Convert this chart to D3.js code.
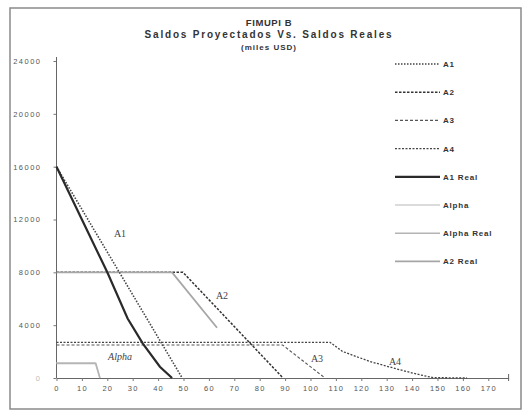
<!DOCTYPE html>
<html><head><meta charset="utf-8">
<script src="https://cdn.jsdelivr.net/npm/d3@7"></script>
<style>
body{margin:0;background:#fff;}
svg{display:block;}
</style></head>
<body>
<svg id="c" width="526" height="412"></svg>
<script>
// ---- data ----
const titleLines = ["FIMUPI B", "Saldos Proyectados Vs. Saldos Reales", "(miles USD)"];
const xTicks = [0,10,20,30,40,50,60,70,80,90,100,110,120,130,140,150,160,170];
const yTicks = [0,4000,8000,12000,16000,20000,24000];
const seriesNames = ["A1","A2","A3","A4","A1 Real","Alpha","Alpha Real","A2 Real"];
const a1 = [[0,16000],[49.5,0]];
const a2 = [[0,8000],[49.8,8000],[89.2,0]];
const a3 = [[0,2500],[89,2500],[105.7,0]];
const a4 = [[0,2700],[107.7,2700],[112.7,2000],[123.4,1250],[135.2,620],[143.1,240],[148.2,30],[161.6,0]];
const a1Real = [[0,16000],[10,12000],[20,8000],[28,4500],[34,2600],[40.7,850],[45.5,0]];
const alpha = [[0,1150],[15.2,1150],[17.1,0]];
const alphaReal = [[0,1100],[15.5,1100],[17.1,0]];
const a2Real = [[0,8000],[45.5,8000],[63.2,3800]];
const labels = [["A1",120,237],["A2",222,299],["A3",317,362],["A4",395,365],["Alpha",120,360]];

const svg = d3.select("#c");
const x = d3.scaleLinear().domain([0,178]).range([56.5,508.6]);
const y = d3.scaleLinear().domain([0,24000]).range([378,61]);
const SANS = "Liberation Sans, Arial, sans-serif";

// frame
svg.append("rect").attr("x",10).attr("y",8).attr("width",511).attr("height",401)
  .attr("fill","#fff").attr("stroke","#8a8a8a").attr("stroke-width",1.5);

// title
const tSize = [9.5,10,8];
const tSpace = [0.6,1.8,1];
svg.selectAll("text.title").data(titleLines).join("text")
  .attr("x",269).attr("y",(d,i)=>26+i*12)
  .attr("text-anchor","middle")
  .attr("font-family",SANS)
  .attr("font-weight","bold")
  .attr("font-size",(d,i)=>tSize[i])
  .attr("letter-spacing",(d,i)=>tSpace[i])
  .attr("fill","#333")
  .text(d=>d);

// axes
const gx = svg.append("g").attr("transform","translate(0,378)")
  .call(d3.axisBottom(x).tickValues(xTicks).tickSize(3).tickSizeOuter(0).tickFormat(d3.format("d")));
const gy = svg.append("g").attr("transform",`translate(${x(0)},0)`)
  .call(d3.axisLeft(y).tickValues(yTicks).tickSize(3).tickSizeOuter(0).tickFormat(d3.format("d")));
gy.select(".domain").remove();
svg.append("line").attr("x1",x(0)).attr("x2",x(0)).attr("y1",57).attr("y2",378).attr("stroke","#666").attr("stroke-width",1);
[gx,gy].forEach(g=>{
  g.selectAll("line").attr("stroke","#777");
  g.select(".domain").attr("stroke","#666");
  g.selectAll("text").attr("font-family",SANS)
    .attr("font-size",7.5).attr("fill","#555");
});
gx.selectAll("text").attr("dy","0.95em").attr("letter-spacing",1.2);
gy.selectAll("text").attr("dx","-9").attr("letter-spacing",1.5);
gy.selectAll(".tick").filter(d=>d===0).select("text").attr("fill","#bbb");
svg.append("line").attr("x1",x(178)).attr("x2",x(178)).attr("y1",374).attr("y2",381).attr("stroke","#666");

// series
const styles = {
  "A1":{data:a1,stroke:"#444",w:1.6,dash:"1.5,1.5"},
  "A2":{data:a2,stroke:"#333",w:1.5,dash:"2.5,1.5"},
  "A3":{data:a3,stroke:"#555",w:1.1,dash:"3,2"},
  "A4":{data:a4,stroke:"#444",w:1.3,dash:"2,1.5"},
  "A1 Real":{data:a1Real,stroke:"#2a2a2a",w:2.2,dash:null},
  "Alpha":{data:alpha,stroke:"#cfcfcf",w:1.4,dash:null},
  "Alpha Real":{data:alphaReal,stroke:"#b4b4b4",w:1.6,dash:null},
  "A2 Real":{data:a2Real,stroke:"#a6a6a6",w:1.8,dash:null}
};
const line = d3.line().x(d=>x(d[0])).y(d=>y(d[1]));
const order = ["Alpha","Alpha Real","A3","A4","A2","A2 Real","A1","A1 Real"];
order.forEach(n=>{
  const s = styles[n];
  svg.append("path").attr("d",line(s.data)).attr("fill","none")
    .attr("stroke",s.stroke).attr("stroke-width",s.w)
    .attr("stroke-dasharray",s.dash);
});

// in-chart labels
svg.selectAll("text.lab").data(labels).join("text")
  .attr("x",d=>d[1]).attr("y",d=>d[2]).attr("text-anchor","middle")
  .attr("font-family","Liberation Serif, Times New Roman, serif")
  .attr("font-style",d=>d[0]==="Alpha"?"italic":"normal")
  .attr("font-size",10).attr("fill","#444").text(d=>d[0]);

// legend
const lg = svg.append("g");
seriesNames.forEach((n,i)=>{
  const s = styles[n], yy = 64 + i*28.2;
  lg.append("line").attr("x1",395).attr("x2",440).attr("y1",yy).attr("y2",yy)
    .attr("stroke",s.stroke).attr("stroke-width",s.w).attr("stroke-dasharray",s.dash);
  lg.append("text").attr("x",443).attr("y",yy+3)
    .attr("font-family",SANS).attr("font-weight","bold")
    .attr("font-size",8).attr("letter-spacing",0.8)
    .attr("fill","#333").text(n);
});
</script>
</body></html>
